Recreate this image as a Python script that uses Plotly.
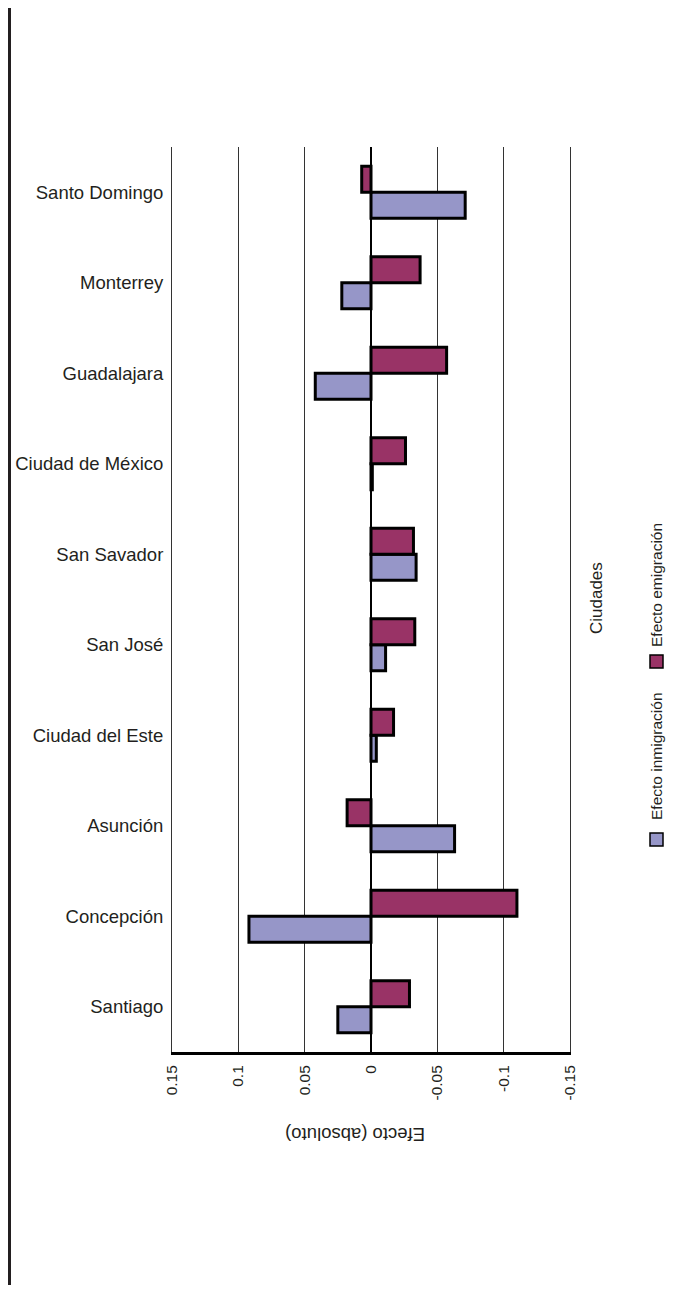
import plotly.graph_objects as go

# categories, bottom to top as drawn
ciudades = [
    "Santiago",
    "Concepción",
    "Asunción",
    "Ciudad del Este",
    "San José",
    "San Savador",
    "Ciudad de México",
    "Guadalajara",
    "Monterrey",
    "Santo Domingo",
]
efecto_inmigracion = [0.025, 0.092, -0.063, -0.004, -0.011, -0.034, -0.001, 0.042, 0.022, -0.071]
efecto_emigracion = [-0.029, -0.110, 0.018, -0.017, -0.033, -0.032, -0.026, -0.057, -0.037, 0.007]

x_ticks = [0.15, 0.1, 0.05, 0, -0.05, -0.1, -0.15]
x_tick_text = ["0.15", "0.1", "0.05", "0", "-0.05", "-0.1", "-0.15"]

BLUE = "#9696C8"
RED = "#993366"
FONT = "Liberation Sans, Arial, sans-serif"

# the page body adds an 8px offset, so margins are shifted by it
OFF = 8
W, H = 680, 1293
L, T = 172 - OFF, 147 - OFF
R, B = 680 - 570 + OFF, 1293 - 1052 + OFF
pw, ph = W - L - R, H - T - B


def px(x):
    # page pixel x -> paper x
    return (x - OFF - L) / pw


def py(y):
    # page pixel y -> paper y
    return (H - B - (y - OFF)) / ph


fig = go.Figure()
fig.add_trace(
    go.Bar(
        y=ciudades,
        x=efecto_inmigracion,
        orientation="h",
        name="Efecto inmigración",
        marker=dict(color=BLUE, line=dict(color="black", width=3)),
        showlegend=False,
    )
)
fig.add_trace(
    go.Bar(
        y=ciudades,
        x=efecto_emigracion,
        orientation="h",
        name="Efecto emigración",
        marker=dict(color=RED, line=dict(color="black", width=3)),
        showlegend=False,
    )
)

fig.update_layout(
    width=W,
    height=H,
    margin=dict(l=L, r=R, t=T, b=B, pad=0, autoexpand=False),
    paper_bgcolor="white",
    plot_bgcolor="white",
    barmode="group",
    bargap=0.425,
    bargroupgap=0,
    font=dict(family=FONT, color="#231f20"),
)

fig.update_xaxes(
    range=[0.15, -0.15],
    tickvals=x_ticks,
    ticktext=x_tick_text,
    tickangle=-90,
    tickfont=dict(size=15.5),
    ticklabelstandoff=4,
    showgrid=True,
    gridcolor="#333333",
    gridwidth=1,
    zeroline=True,
    zerolinecolor="black",
    zerolinewidth=2,
    showline=True,
    linecolor="black",
    linewidth=3,
    mirror=False,
    ticks="",
    automargin=False,
)
fig.update_yaxes(
    tickfont=dict(size=18.5),
    ticklabelstandoff=4,
    showgrid=False,
    zeroline=False,
    showline=True,
    linecolor="#333333",
    linewidth=1,
    mirror=True,
    ticks="",
    automargin=False,
)

# rotated axis title
fig.add_annotation(
    text="Efecto (absoluto)",
    x=px(355), y=py(1135), xref="paper", yref="paper",
    xanchor="center", yanchor="middle",
    showarrow=False, textangle=180, font=dict(size=18.5),
)

# rotated legend, drawn by hand
legend_text = dict(xref="paper", yref="paper", xanchor="center", yanchor="middle",
                   showarrow=False, textangle=-90)
fig.add_annotation(text="Ciudades", x=px(596), y=py(598), font=dict(size=17), **legend_text)
fig.add_annotation(text="Efecto emigración", x=px(656), y=py(585), font=dict(size=15.5), **legend_text)
fig.add_annotation(text="Efecto inmigración", x=px(656), y=py(756), font=dict(size=15.5), **legend_text)
fig.add_shape(
    type="rect", xref="paper", yref="paper",
    x0=px(650), x1=px(663), y0=py(668), y1=py(655),
    fillcolor=RED, line=dict(color="black", width=1.5),
)
fig.add_shape(
    type="rect", xref="paper", yref="paper",
    x0=px(650), x1=px(663), y0=py(846), y1=py(833),
    fillcolor=BLUE, line=dict(color="black", width=1.5),
)

# page edge line on the left
fig.add_shape(
    type="line", xref="paper", yref="paper",
    x0=px(OFF + 1.5), x1=px(OFF + 1.5), y0=py(1285), y1=py(OFF),
    line=dict(color="#231f20", width=3),
)

fig.write_html("out.html")
